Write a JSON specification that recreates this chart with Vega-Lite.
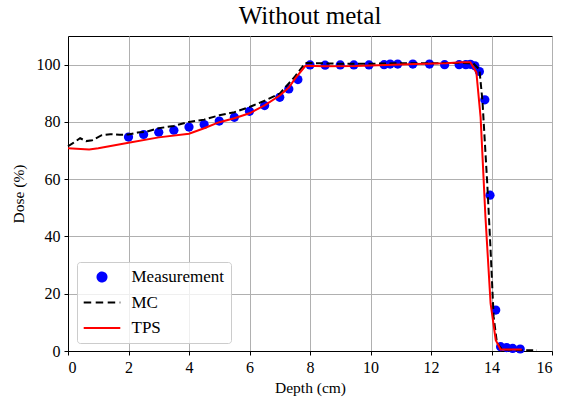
{
  "$schema": "https://vega.github.io/schema/vega-lite/v6.json",
  "width": 484,
  "height": 315,
  "autosize": {"type": "none"},
  "padding": {"left": 68, "top": 36, "right": 11, "bottom": 51},
  "title": {"text": "Without metal", "font": "Liberation Serif", "fontSize": 25, "fontWeight": "normal", "color": "black", "offset": 7},
  "config": {
    "view": {"stroke": "black", "strokeWidth": 1},
    "axis": {
      "labelFont": "Liberation Serif", "labelFontSize": 16, "labelColor": "black",
      "titleFont": "Liberation Serif", "titleFontSize": 15.5, "titleFontWeight": "normal", "titleColor": "black",
      "domainColor": "black", "tickColor": "black", "tickSize": 4,
      "gridColor": "#b0b0b0", "gridWidth": 1
    }
  },
  "data": {"values": [
    {"series": "Measurement", "depth": 2.0, "dose": 74.7},
    {"series": "Measurement", "depth": 2.5, "dose": 75.6},
    {"series": "Measurement", "depth": 3.0, "dose": 76.4},
    {"series": "Measurement", "depth": 3.5, "dose": 77.1},
    {"series": "Measurement", "depth": 4.0, "dose": 78.2},
    {"series": "Measurement", "depth": 4.5, "dose": 79.1},
    {"series": "Measurement", "depth": 5.0, "dose": 80.3},
    {"series": "Measurement", "depth": 5.5, "dose": 81.6},
    {"series": "Measurement", "depth": 6.0, "dose": 83.7},
    {"series": "Measurement", "depth": 6.5, "dose": 85.7},
    {"series": "Measurement", "depth": 7.0, "dose": 88.6},
    {"series": "Measurement", "depth": 7.3, "dose": 91.5},
    {"series": "Measurement", "depth": 7.6, "dose": 94.8},
    {"series": "Measurement", "depth": 8.0, "dose": 99.9},
    {"series": "Measurement", "depth": 8.5, "dose": 99.8},
    {"series": "Measurement", "depth": 9.0, "dose": 99.9},
    {"series": "Measurement", "depth": 9.45, "dose": 99.9},
    {"series": "Measurement", "depth": 9.95, "dose": 99.9},
    {"series": "Measurement", "depth": 10.45, "dose": 100.0},
    {"series": "Measurement", "depth": 10.65, "dose": 100.2},
    {"series": "Measurement", "depth": 10.9, "dose": 100.2},
    {"series": "Measurement", "depth": 11.4, "dose": 100.2},
    {"series": "Measurement", "depth": 11.95, "dose": 100.2},
    {"series": "Measurement", "depth": 12.45, "dose": 100.0},
    {"series": "Measurement", "depth": 12.93, "dose": 100.0},
    {"series": "Measurement", "depth": 13.15, "dose": 100.0},
    {"series": "Measurement", "depth": 13.3, "dose": 100.1},
    {"series": "Measurement", "depth": 13.45, "dose": 99.6},
    {"series": "Measurement", "depth": 13.6, "dose": 97.6},
    {"series": "Measurement", "depth": 13.78, "dose": 87.7},
    {"series": "Measurement", "depth": 13.95, "dose": 54.4},
    {"series": "Measurement", "depth": 14.14, "dose": 14.3},
    {"series": "Measurement", "depth": 14.3, "dose": 1.5},
    {"series": "Measurement", "depth": 14.5, "dose": 1.2},
    {"series": "Measurement", "depth": 14.7, "dose": 0.9},
    {"series": "Measurement", "depth": 14.95, "dose": 0.7},
    {"series": "MC", "depth": 0.0, "dose": 71.5},
    {"series": "MC", "depth": 0.15, "dose": 72.5},
    {"series": "MC", "depth": 0.4, "dose": 74.3},
    {"series": "MC", "depth": 0.6, "dose": 73.3},
    {"series": "MC", "depth": 0.8, "dose": 73.6},
    {"series": "MC", "depth": 1.1, "dose": 75.3},
    {"series": "MC", "depth": 1.4, "dose": 75.7},
    {"series": "MC", "depth": 1.7, "dose": 75.5},
    {"series": "MC", "depth": 2.0, "dose": 75.6},
    {"series": "MC", "depth": 2.3, "dose": 76.3},
    {"series": "MC", "depth": 2.6, "dose": 76.6},
    {"series": "MC", "depth": 3.0, "dose": 77.8},
    {"series": "MC", "depth": 3.5, "dose": 78.6},
    {"series": "MC", "depth": 4.0, "dose": 80.0},
    {"series": "MC", "depth": 4.5, "dose": 80.8},
    {"series": "MC", "depth": 5.0, "dose": 82.3},
    {"series": "MC", "depth": 5.5, "dose": 83.4},
    {"series": "MC", "depth": 6.0, "dose": 85.2},
    {"series": "MC", "depth": 6.5, "dose": 87.4},
    {"series": "MC", "depth": 7.0, "dose": 89.9},
    {"series": "MC", "depth": 7.5, "dose": 95.8},
    {"series": "MC", "depth": 7.85, "dose": 100.6},
    {"series": "MC", "depth": 8.2, "dose": 100.5},
    {"series": "MC", "depth": 9.0, "dose": 100.3},
    {"series": "MC", "depth": 10.0, "dose": 100.3},
    {"series": "MC", "depth": 11.0, "dose": 100.5},
    {"series": "MC", "depth": 12.0, "dose": 100.5},
    {"series": "MC", "depth": 13.0, "dose": 100.6},
    {"series": "MC", "depth": 13.4, "dose": 100.4},
    {"series": "MC", "depth": 13.6, "dose": 98.3},
    {"series": "MC", "depth": 13.7, "dose": 87.5},
    {"series": "MC", "depth": 13.86, "dose": 58.4},
    {"series": "MC", "depth": 13.97, "dose": 35.2},
    {"series": "MC", "depth": 14.07, "dose": 12.0},
    {"series": "MC", "depth": 14.18, "dose": 2.8},
    {"series": "MC", "depth": 14.35, "dose": 0.5},
    {"series": "MC", "depth": 15.0, "dose": 0.3},
    {"series": "MC", "depth": 15.5, "dose": 0.3},
    {"series": "TPS", "depth": 0.0, "dose": 70.8},
    {"series": "TPS", "depth": 0.7, "dose": 70.4},
    {"series": "TPS", "depth": 1.0, "dose": 70.8},
    {"series": "TPS", "depth": 2.0, "dose": 72.7},
    {"series": "TPS", "depth": 3.0, "dose": 74.6},
    {"series": "TPS", "depth": 4.0, "dose": 75.9},
    {"series": "TPS", "depth": 4.5, "dose": 77.8},
    {"series": "TPS", "depth": 5.0, "dose": 79.9},
    {"series": "TPS", "depth": 5.5, "dose": 81.3},
    {"series": "TPS", "depth": 6.0, "dose": 83.0},
    {"series": "TPS", "depth": 6.5, "dose": 85.8},
    {"series": "TPS", "depth": 7.0, "dose": 89.2},
    {"series": "TPS", "depth": 7.3, "dose": 92.0},
    {"series": "TPS", "depth": 7.5, "dose": 95.0},
    {"series": "TPS", "depth": 7.85, "dose": 99.6},
    {"series": "TPS", "depth": 8.5, "dose": 99.4},
    {"series": "TPS", "depth": 9.5, "dose": 99.5},
    {"series": "TPS", "depth": 10.5, "dose": 99.9},
    {"series": "TPS", "depth": 11.5, "dose": 100.2},
    {"series": "TPS", "depth": 12.5, "dose": 100.5},
    {"series": "TPS", "depth": 13.0, "dose": 100.8},
    {"series": "TPS", "depth": 13.3, "dose": 100.8},
    {"series": "TPS", "depth": 13.5, "dose": 97.3},
    {"series": "TPS", "depth": 13.64, "dose": 81.6},
    {"series": "TPS", "depth": 13.8, "dose": 46.8},
    {"series": "TPS", "depth": 13.97, "dose": 16.6},
    {"series": "TPS", "depth": 14.14, "dose": 3.8},
    {"series": "TPS", "depth": 14.3, "dose": 0.5},
    {"series": "TPS", "depth": 15.0, "dose": 0.5}
  ]},
  "encoding": {
    "x": {"field": "depth", "type": "quantitative", "title": "Depth (cm)",
      "scale": {"domain": [0, 16], "nice": false, "zero": false},
      "axis": {"values": [0, 2, 4, 6, 8, 10, 12, 14, 16], "titlePadding": 5, "labelPadding": 4}},
    "y": {"field": "dose", "type": "quantitative", "title": "Dose (%)",
      "scale": {"domain": [0, 110], "nice": false},
      "axis": {"values": [0, 20, 40, 60, 80, 100], "titlePadding": 10, "labelPadding": 4}},
    "color": {"field": "series", "type": "nominal",
      "scale": {"domain": ["Measurement", "MC", "TPS"], "range": ["#0000ff", "#000000", "#ff0000"]},
      "legend": {
        "title": null, "orient": "none", "legendX": 9, "legendY": 226,
        "labelFont": "Liberation Serif", "labelFontSize": 17, "labelColor": "black", "labelOffset": 21,
        "strokeColor": "#cccccc", "fillColor": "rgba(255,255,255,0.8)", "cornerRadius": 3,
        "padding": 6.5, "rowPadding": 7.5, "symbolSize": 225, "symbolOffset": 10, "symbolType": "circle", "symbolStrokeWidth": 2,
        "encode": {"symbols": {"update": {
          "shape": {"signal": "datum.value === 'Measurement' ? 'M-0.6,0A0.6,0.6,0,1,1,0.6,0A0.6,0.6,0,1,1,-0.6,0Z' : 'M-2.44,0H2.44'"},
          "size": {"value": 225},
          "fill": {"signal": "datum.value === 'Measurement' ? '#0000ff' : 'transparent'"},
          "stroke": {"signal": "datum.value === 'Measurement' ? 'transparent' : (datum.value === 'MC' ? '#000000' : '#ff0000')"},
          "strokeDash": {"signal": "datum.value === 'MC' ? [7.5, 4.5] : [1, 0]"},
          "strokeWidth": {"value": 2},
          "opacity": {"value": 1}
        }}}
      }}
  },
  "layer": [
    {"transform": [{"filter": "datum.series === 'Measurement'"}],
     "mark": {"type": "point", "filled": true, "size": 85, "opacity": 1}},
    {"transform": [{"filter": "datum.series === 'MC'"}],
     "mark": {"type": "line", "strokeWidth": 2, "strokeDash": [7, 3.5]}},
    {"transform": [{"filter": "datum.series === 'TPS'"}],
     "mark": {"type": "line", "strokeWidth": 2}}
  ]
}
